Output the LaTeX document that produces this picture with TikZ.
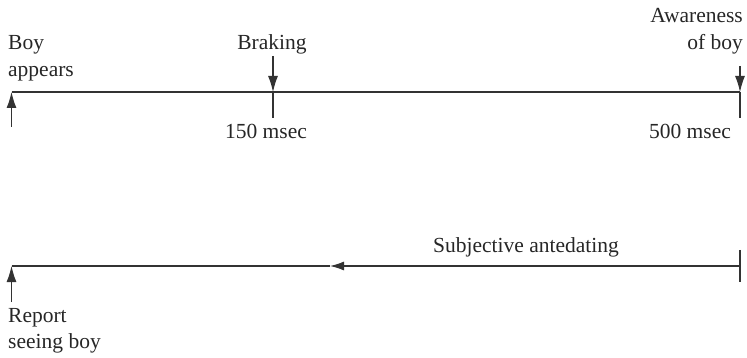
\documentclass[tikz,border=0pt]{standalone}
\usepackage{fontspec}
\setmainfont{Liberation Serif}
\usetikzlibrary{arrows.meta}
\begin{document}
\begin{tikzpicture}[x=1pt,y=-1pt,
  lbl/.style={inner sep=0pt,font=\fontsize{21.5}{25}\selectfont,text=black!85},
  axis/.style={line width=1.1pt,draw=black!80},
  tip/.style={-{Latex[length=16pt,width=10pt]}},
  midtip/.style={{Latex[length=14pt,width=9pt]}-},
]
\useasboundingbox (0,0) rectangle (747,358);

% upper time line
\coordinate (t0) at (11.5,92);
\coordinate (t150) at (273,92);
\coordinate (t500) at (740,92);
\draw[axis] (t0) -- (t500);

% onset arrow
\coordinate (b0) at (11.5,127);
\draw[axis,tip] (b0) -- (t0);
\node[lbl,anchor=base west] (boy) at (8,50) {Boy};
\node[lbl,anchor=base west] (app) at (8,77) {appears};

% braking marker
\coordinate (brk) at (273,56);
\coordinate (brkd) at (273,118);
\draw[axis,tip] (brk) -- (t150);
\draw[axis] (t150) -- (brkd);
\node[lbl,anchor=base] (braking) at (272,50) {Braking};
\node[lbl,anchor=base] (ms150) at (266,139) {150 msec};

% awareness marker
\coordinate (aw) at (740,66);
\coordinate (awd) at (740,118);
\draw[axis,tip] (aw) -- (t500);
\draw[axis] (t500) -- (awd);
\node[lbl,anchor=base east] (awr) at (743,23) {Awareness};
\node[lbl,anchor=base east] (ofb) at (743,50) {of boy};
\node[lbl,anchor=base] (ms500) at (690,139) {500 msec};

% lower line: subjective antedating
\coordinate (s0) at (11.5,266);
\coordinate (smid) at (330,266);
\coordinate (s1) at (740,266);
\coordinate (s1a) at (740,250);
\coordinate (s1b) at (740,282);
\draw[axis] (s0) -- (smid);
\draw[axis,midtip] (smid) -- (s1);
\draw[axis] (s1a) -- (s1b);
\node[lbl,anchor=base] (subj) at (526,253) {Subjective antedating};

% report arrow
\coordinate (r0) at (11.5,302);
\draw[axis,tip] (r0) -- (s0);
\node[lbl,anchor=base west] (rep) at (8,322) {Report};
\node[lbl,anchor=base west] (see) at (8,348) {seeing boy};
\end{tikzpicture}
\end{document}
